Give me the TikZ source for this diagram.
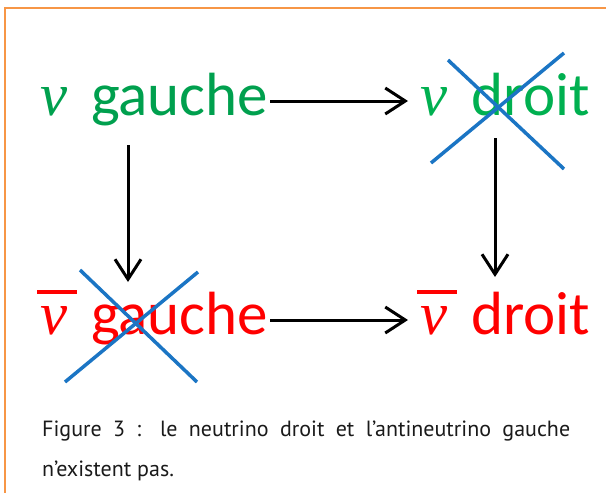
\documentclass[tikz,border=0pt]{standalone}
\usepackage{fontspec}
\setmainfont{Carlito}
\newfontfamily\capfont{PT Sans}
\newfontfamily\grk{Liberation Serif}
\usetikzlibrary{arrows.meta,calc}
\definecolor{gdark}{HTML}{00A04E}
\definecolor{glight}{HTML}{00B050}
\definecolor{xblue}{HTML}{1B75C4}
\definecolor{framec}{HTML}{F79646}
\definecolor{capc}{HTML}{1A1A1A}
\newcommand{\nuit}{{\grk\itshape ν}}
\newcommand{\nubar}{\makebox[0pt][l]{\hspace{-3pt}\raisebox{40pt}{\rule{40pt}{4pt}}}\nuit}
\begin{document}
\begin{tikzpicture}[x=1pt,y=1pt,
  lbl/.style={inner sep=0pt, anchor=base west, font=\fontsize{61}{63}\selectfont},
  capt/.style={inner sep=0pt, anchor=base west, text=capc, font=\capfont\fontsize{22}{26}\selectfont},
  arr/.style={line width=3pt, -{Straight Barb[length=20pt,width=26pt]}},
  xline/.style={xblue, line width=3.5pt}]
\useasboundingbox (0,0) rectangle (606,-493);
\draw[framec, line width=2pt] (4.5,-493) -- (4.5,-8) -- (606,-8);
\node[lbl, text=gdark] (ng) at (40,-115) {\nuit\hspace{10pt} gauche};
\node[lbl, text=glight] (nd) at (420,-115) {\nuit\hspace{10pt} droit};
\node[lbl, text=red] (ag) at (40,-334) {\nubar\hspace{10pt} gauche};
\node[lbl, text=red] (ad) at (420,-334) {\nubar\hspace{10pt} droit};
\draw[arr] ($(ng.base east)+(2,14)$) -- ($(nd.base west)+(-12,14)$);
\draw[arr] ($(ag.base east)+(2,14)$) -- ($(ad.base west)+(-12,14)$);
\draw[arr] ($(ng.base west)+(88,-30)$) -- ($(ag.base west)+(88,52)$);
\draw[arr] ($(nd.base west)+(75,-23)$) -- ($(ad.base west)+(75,57)$);
\draw[xline] (448,-60) -- (564,-169);
\draw[xline] (564,-53) -- (431,-163);
\draw[xline] (80,-270) -- (197,-382);
\draw[xline] (198,-272) -- (65,-382);
\node[capt] (c1) at (42,-436) {\makebox[528pt][s]{Figure 3 : le neutrino droit et l’antineutrino gauche}};
\node[capt] (c2) at (42,-476) {n’existent pas.};
\end{tikzpicture}
\end{document}
